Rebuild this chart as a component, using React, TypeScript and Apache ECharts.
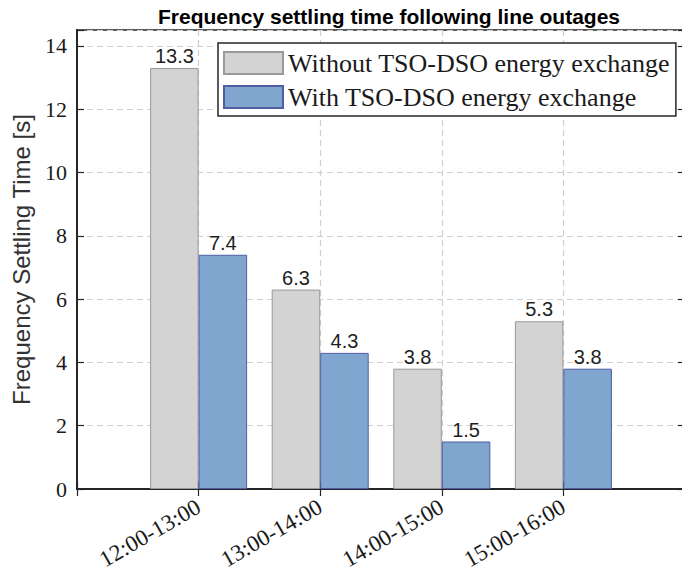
import React, { useEffect, useRef } from "react";
import * as echarts from "echarts";

const categories = ["12:00-13:00", "13:00-14:00", "14:00-15:00", "15:00-16:00"];
const withoutExchange = [13.3, 6.3, 3.8, 5.3];
const withExchange = [7.4, 4.3, 1.5, 3.8];
const seriesNames = ["Without TSO-DSO energy exchange", "With TSO-DSO energy exchange"];
const titleText = "Frequency settling time following line outages";
const yName = "Frequency Settling Time [s]";
const yMin = 0;
const yMax = 14.5;
const yInterval = 2;

const SERIF = "'Liberation Serif', 'Times New Roman', serif";
const SANS = "'Liberation Sans', Arial, Helvetica, sans-serif";

export default function App() {
  const ref = useRef<HTMLDivElement>(null);

  useEffect(() => {
    if (!ref.current) return;
    const chart = echarts.init(ref.current, null, { renderer: "svg" });

    const paddedCats = ["", ...categories, ""];
    const pad = (arr: number[]) => ["-", ...arr, "-"] as any[];

    const barLabel = {
      show: true,
      position: "top" as const,
      distance: 2,
      fontFamily: SANS,
      fontSize: 20,
      color: "#1e1e1e",
      formatter: (p: any) => Number(p.value).toFixed(1),
    };

    const dashed = { color: "#d0d0d0", type: [6, 4] as any, width: 1.2 };
    const frameColor = "#262626";

    const option: any = {
      animation: false,
      backgroundColor: "#ffffff",
      graphic: [
        {
          type: "text",
          x: 389,
          y: 16,
          style: {
            text: titleText,
            textAlign: "center",
            textVerticalAlign: "middle",
            font: `bold 21px ${SANS}`,
            fill: "#000",
          },
        },
      ],
      grid: {
        left: 77,
        right: -3,
        top: 30,
        bottom: 86,
        show: true,
        borderColor: frameColor,
        borderWidth: 1.5,
        backgroundColor: "transparent",
        outerBoundsMode: "none",
        containLabel: false,
      },
      legend: {
        orient: "vertical",
        left: 218,
        top: 43,
        padding: [7, 6, 6, 5],
        itemWidth: 59,
        itemHeight: 22,
        itemGap: 8,
        backgroundColor: "#ffffff",
        borderColor: frameColor,
        borderWidth: 1.5,
        icon: "rect",
        data: seriesNames,
        textStyle: {
          fontFamily: SERIF,
          fontSize: 26,
          lineHeight: 22,
          color: "#1a1a1a",
        },
      },
      xAxis: [
        {
          type: "category",
          data: paddedCats,
          boundaryGap: false,
          position: "bottom",
          axisLine: { show: true, lineStyle: { color: frameColor, width: 2 } },
          axisTick: { show: true, inside: true, length: 7, lineStyle: { color: frameColor, width: 1.2 } },
          axisLabel: {
            show: true,
            rotate: 30,
            margin: 16,
            interval: 0,
            fontFamily: SERIF,
            fontSize: 23,
            color: "#1a1a1a",
          },
          splitLine: { show: true, lineStyle: dashed },
        },
        {
          type: "category",
          data: paddedCats,
          boundaryGap: false,
          position: "top",
          axisLine: { show: true, lineStyle: { color: frameColor, width: 1.5 } },
          axisTick: { show: true, inside: true, length: 7, lineStyle: { color: frameColor, width: 1.2 } },
          axisLabel: { show: false },
          splitLine: { show: false },
        },
      ],
      yAxis: [
        {
          type: "value",
          min: yMin,
          max: yMax,
          interval: yInterval,
          position: "left",
          name: yName,
          nameLocation: "middle",
          nameGap: 44,
          nameTextStyle: { fontFamily: SANS, fontSize: 24, color: "#333333" },
          axisLine: { show: true, lineStyle: { color: frameColor, width: 2 } },
          axisTick: { show: true, inside: true, length: 7, lineStyle: { color: frameColor, width: 1.2 } },
          axisLabel: {
            show: true,
            margin: 10,
            fontFamily: SERIF,
            fontSize: 22,
            color: "#1a1a1a",
            formatter: (v: number) => (Number.isInteger(v) ? String(v) : ""),
          },
          splitLine: { show: true, lineStyle: dashed },
        },
        {
          type: "value",
          min: yMin,
          max: yMax,
          interval: yInterval,
          position: "right",
          axisLine: { show: true, lineStyle: { color: frameColor, width: 1.5 } },
          axisTick: { show: true, inside: true, length: 7, lineStyle: { color: frameColor, width: 1.2 } },
          axisLabel: { show: false },
          splitLine: { show: false },
        },
      ],
      series: [
        {
          name: seriesNames[0],
          type: "bar",
          xAxisIndex: 0,
          yAxisIndex: 0,
          data: pad(withoutExchange),
          barWidth: 48.5,
          barGap: "0%",
          itemStyle: { color: "#d3d3d3", borderColor: "#999999", borderWidth: 1 },
          label: barLabel,
        },
        {
          name: seriesNames[1],
          type: "bar",
          xAxisIndex: 0,
          yAxisIndex: 0,
          data: pad(withExchange),
          barWidth: 48.5,
          barGap: "0%",
          itemStyle: { color: "#80a5cf", borderColor: "#4f5da5", borderWidth: 1 },
          label: barLabel,
        },
      ],
    };

    chart.setOption(option);
    return () => {
      chart.dispose();
    };
  }, []);

  return (
    <div
      ref={ref}
      style={{ position: "fixed", left: 0, top: 0, width: 682, height: 575, background: "#fff" }}
    />
  );
}
